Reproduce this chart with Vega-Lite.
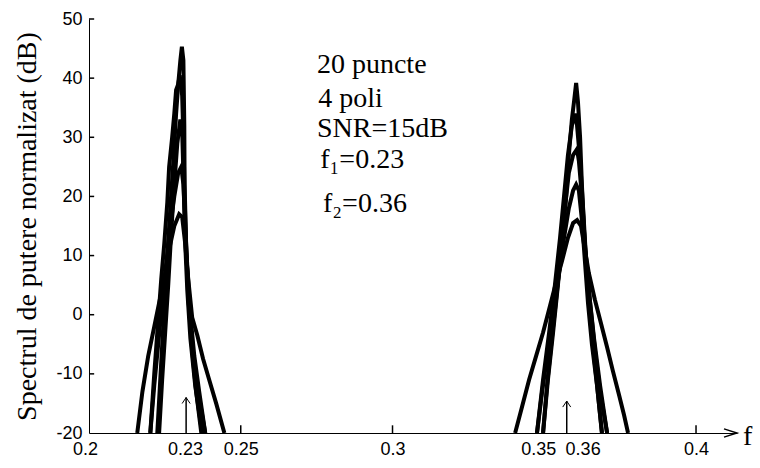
{
  "$schema": "https://vega.github.io/schema/vega-lite/v6.json",
  "width": 648,
  "height": 414,
  "autosize": {"type": "none"},
  "padding": {"left": 89, "top": 19, "right": 23, "bottom": 35},
  "background": "white",
  "config": {
    "view": {"stroke": null},
    "axis": {"grid": false, "domainColor": "black", "tickColor": "black", "labelColor": "black", "labelFont": "Liberation Sans", "labelFontSize": 18, "titleColor": "black"}
  },
  "datasets": {
    "curves": [
      {"s":"L1","f":0.2225,"db":-20},{"s":"L1","f":0.2238,"db":-8},{"s":"L1","f":0.2248,"db":1},{"s":"L1","f":0.2258,"db":10},{"s":"L1","f":0.2268,"db":18},{"s":"L1","f":0.2278,"db":26},{"s":"L1","f":0.2287,"db":34},{"s":"L1","f":0.2294,"db":39},{"s":"L1","f":0.2301,"db":43},{"s":"L1","f":0.2306,"db":45.3},{"s":"L1","f":0.2311,"db":43},{"s":"L1","f":0.2314,"db":32},{"s":"L1","f":0.2315,"db":22},{"s":"L1","f":0.2320,"db":12},{"s":"L1","f":0.2327,"db":3},{"s":"L1","f":0.2340,"db":-6},{"s":"L1","f":0.2353,"db":-13},{"s":"L1","f":0.2370,"db":-20},
      {"s":"L2","f":0.2202,"db":-20},{"s":"L2","f":0.2215,"db":-10},{"s":"L2","f":0.2228,"db":-1},{"s":"L2","f":0.2238,"db":6},{"s":"L2","f":0.2248,"db":12},{"s":"L2","f":0.2258,"db":19},{"s":"L2","f":0.2264,"db":25},{"s":"L2","f":0.2274,"db":30},{"s":"L2","f":0.2281,"db":34},{"s":"L2","f":0.2287,"db":38},{"s":"L2","f":0.2294,"db":39},{"s":"L2","f":0.2299,"db":40.5},{"s":"L2","f":0.2307,"db":37},{"s":"L2","f":0.2312,"db":28},{"s":"L2","f":0.2315,"db":20},{"s":"L2","f":0.2320,"db":11},{"s":"L2","f":0.2330,"db":1},{"s":"L2","f":0.2343,"db":-7},{"s":"L2","f":0.2363,"db":-14},{"s":"L2","f":0.2383,"db":-20},
      {"s":"L3","f":0.2231,"db":-20},{"s":"L3","f":0.2241,"db":-11},{"s":"L3","f":0.2251,"db":-3},{"s":"L3","f":0.2261,"db":5},{"s":"L3","f":0.2271,"db":14},{"s":"L3","f":0.2281,"db":22},{"s":"L3","f":0.2291,"db":29},{"s":"L3","f":0.2301,"db":33},{"s":"L3","f":0.2307,"db":31},{"s":"L3","f":0.2312,"db":22},{"s":"L3","f":0.2317,"db":12},{"s":"L3","f":0.2324,"db":4},{"s":"L3","f":0.2334,"db":-4},{"s":"L3","f":0.2350,"db":-12},{"s":"L3","f":0.2373,"db":-20},
      {"s":"L4","f":0.2202,"db":-20},{"s":"L4","f":0.2215,"db":-12},{"s":"L4","f":0.2228,"db":-5},{"s":"L4","f":0.2241,"db":2},{"s":"L4","f":0.2255,"db":9},{"s":"L4","f":0.2268,"db":15},{"s":"L4","f":0.2281,"db":20},{"s":"L4","f":0.2294,"db":24},{"s":"L4","f":0.2304,"db":25},{"s":"L4","f":0.2311,"db":22},{"s":"L4","f":0.2317,"db":15},{"s":"L4","f":0.2324,"db":8},{"s":"L4","f":0.2334,"db":0},{"s":"L4","f":0.2347,"db":-7},{"s":"L4","f":0.2363,"db":-13},{"s":"L4","f":0.2383,"db":-20},
      {"s":"L5","f":0.2159,"db":-20},{"s":"L5","f":0.2176,"db":-13},{"s":"L5","f":0.2195,"db":-7},{"s":"L5","f":0.2215,"db":-2},{"s":"L5","f":0.2231,"db":2},{"s":"L5","f":0.2248,"db":6},{"s":"L5","f":0.2264,"db":11},{"s":"L5","f":0.2281,"db":15},{"s":"L5","f":0.2297,"db":17},{"s":"L5","f":0.2307,"db":16.5},{"s":"L5","f":0.2317,"db":12},{"s":"L5","f":0.2327,"db":6},{"s":"L5","f":0.2340,"db":-0.5},{"s":"L5","f":0.2357,"db":-3.5},{"s":"L5","f":0.2376,"db":-7.5},{"s":"L5","f":0.2396,"db":-11},{"s":"L5","f":0.2419,"db":-15},{"s":"L5","f":0.2446,"db":-20},
      {"s":"R1","f":0.3496,"db":-20},{"s":"R1","f":0.3512,"db":-11},{"s":"R1","f":0.3529,"db":-3},{"s":"R1","f":0.3545,"db":5},{"s":"R1","f":0.3558,"db":12},{"s":"R1","f":0.3572,"db":20},{"s":"R1","f":0.3581,"db":27},{"s":"R1","f":0.3591,"db":33},{"s":"R1","f":0.3598,"db":36},{"s":"R1","f":0.3605,"db":39.2},{"s":"R1","f":0.3611,"db":36},{"s":"R1","f":0.3618,"db":30},{"s":"R1","f":0.3624,"db":22},{"s":"R1","f":0.3631,"db":14},{"s":"R1","f":0.3641,"db":6},{"s":"R1","f":0.3654,"db":-2},{"s":"R1","f":0.3670,"db":-10},{"s":"R1","f":0.3690,"db":-20},
      {"s":"R2","f":0.3476,"db":-20},{"s":"R2","f":0.3496,"db":-11},{"s":"R2","f":0.3516,"db":-3},{"s":"R2","f":0.3535,"db":5},{"s":"R2","f":0.3552,"db":13},{"s":"R2","f":0.3565,"db":20},{"s":"R2","f":0.3578,"db":27},{"s":"R2","f":0.3591,"db":32},{"s":"R2","f":0.3601,"db":34},{"s":"R2","f":0.3608,"db":32},{"s":"R2","f":0.3618,"db":26},{"s":"R2","f":0.3628,"db":18},{"s":"R2","f":0.3637,"db":10},{"s":"R2","f":0.3651,"db":2},{"s":"R2","f":0.3667,"db":-6},{"s":"R2","f":0.3684,"db":-13},{"s":"R2","f":0.3707,"db":-20},
      {"s":"R3","f":0.3496,"db":-20},{"s":"R3","f":0.3509,"db":-12},{"s":"R3","f":0.3525,"db":-4},{"s":"R3","f":0.3542,"db":4},{"s":"R3","f":0.3555,"db":11},{"s":"R3","f":0.3568,"db":18},{"s":"R3","f":0.3581,"db":24},{"s":"R3","f":0.3595,"db":27},{"s":"R3","f":0.3608,"db":28},{"s":"R3","f":0.3614,"db":26},{"s":"R3","f":0.3624,"db":20},{"s":"R3","f":0.3634,"db":12},{"s":"R3","f":0.3647,"db":4},{"s":"R3","f":0.3664,"db":-4},{"s":"R3","f":0.3684,"db":-12},{"s":"R3","f":0.3707,"db":-20},
      {"s":"R4","f":0.3476,"db":-20},{"s":"R4","f":0.3493,"db":-13},{"s":"R4","f":0.3512,"db":-6},{"s":"R4","f":0.3532,"db":1},{"s":"R4","f":0.3549,"db":7},{"s":"R4","f":0.3565,"db":13},{"s":"R4","f":0.3581,"db":18},{"s":"R4","f":0.3595,"db":21},{"s":"R4","f":0.3605,"db":22},{"s":"R4","f":0.3614,"db":21},{"s":"R4","f":0.3624,"db":16},{"s":"R4","f":0.3634,"db":9},{"s":"R4","f":0.3644,"db":2},{"s":"R4","f":0.3657,"db":-5},{"s":"R4","f":0.3674,"db":-12},{"s":"R4","f":0.3690,"db":-20},
      {"s":"R5","f":0.3404,"db":-20},{"s":"R5","f":0.3427,"db":-15.5},{"s":"R5","f":0.3450,"db":-11},{"s":"R5","f":0.3473,"db":-7},{"s":"R5","f":0.3496,"db":-3},{"s":"R5","f":0.3519,"db":1.5},{"s":"R5","f":0.3539,"db":5.5},{"s":"R5","f":0.3558,"db":9},{"s":"R5","f":0.3578,"db":13},{"s":"R5","f":0.3595,"db":15.5},{"s":"R5","f":0.3608,"db":16},{"s":"R5","f":0.3621,"db":15},{"s":"R5","f":0.3634,"db":11},{"s":"R5","f":0.3647,"db":7},{"s":"R5","f":0.3667,"db":2.5},{"s":"R5","f":0.3687,"db":-1.5},{"s":"R5","f":0.3707,"db":-5.5},{"s":"R5","f":0.3726,"db":-9.5},{"s":"R5","f":0.3746,"db":-13.5},{"s":"R5","f":0.3763,"db":-17},{"s":"R5","f":0.3776,"db":-20}
    ],
    "segments": [
      {"f": 0.2320, "f2": 0.2320, "db": -20, "db2": -14},
      {"f": 0.3574, "f2": 0.3574, "db": -20, "db2": -14.6},
      {"f": 0.25, "f2": 0.25, "db": -20, "db2": -18.7},
      {"f": 0.3, "f2": 0.3, "db": -20, "db2": -18.7},
      {"f": 0.35, "f2": 0.35, "db": -20, "db2": -18.7},
      {"f": 0.4, "f2": 0.4, "db": -20, "db2": -18.7},
      {"f": 0.2, "f2": 0.2017, "db": -10, "db2": -10},
      {"f": 0.2, "f2": 0.2017, "db": 0, "db2": 0},
      {"f": 0.2, "f2": 0.2017, "db": 10, "db2": 10},
      {"f": 0.2, "f2": 0.2017, "db": 20, "db2": 20},
      {"f": 0.2, "f2": 0.2017, "db": 30, "db2": 30},
      {"f": 0.2, "f2": 0.2017, "db": 40, "db2": 40},
      {"f": 0.2, "f2": 0.2017, "db": 50, "db2": 50}
    ],
    "heads": [
      {"f": 0.2320, "db": -14},
      {"f": 0.3574, "db": -14.6}
    ],
    "axisEnd": [
      {"f": 0.4135, "db": -20}
    ],
    "notes": [
      {"f": 0.2751, "db": 40.8, "t": "20 puncte"},
      {"f": 0.2755, "db": 35.2, "t": "4 poli"},
      {"f": 0.2751, "db": 30.1, "t": "SNR=15dB"},
      {"f": 0.2762, "db": 24.8, "t": "f₁=0.23"},
      {"f": 0.2771, "db": 17.4, "t": "f₂=0.36"}
    ],
    "axisName": [
      {"f": 0.4155, "db": -22, "t": "f"}
    ]
  },
  "layer": [
    {
      "data": {"name": "curves"},
      "mark": {"type": "line", "color": "black", "strokeWidth": 4, "clip": true},
      "encoding": {
        "x": {
          "field": "f", "type": "quantitative",
          "scale": {"domain": [0.2, 0.4135], "nice": false, "zero": false},
          "axis": {
            "values": [0.2, 0.23, 0.25, 0.3, 0.35, 0.36, 0.4],
            "title": null,
            "domainWidth": 1,
            "ticks": false,
            "labelPadding": 7,
            "labelOverlap": false,
            "labelFlush": false,
            "labelExpr": "'' + datum.value",
            "labelOffset": {"expr": "datum.value == 0.2 ? -4 : datum.value == 0.23 ? 5 : datum.value == 0.35 ? -6 : datum.value == 0.36 ? 8 : 0"}
          }
        },
        "y": {
          "field": "db", "type": "quantitative",
          "scale": {"domain": [-20, 50], "nice": false, "zero": false},
          "axis": {
            "values": [-20, -10, 0, 10, 20, 30, 40, 50],
            "title": "Spectrul de putere normalizat (dB)",
            "titleFont": "Liberation Serif",
            "titleFontSize": 28,
            "titleFontWeight": "normal",
            "titlePadding": 14,
            "domainWidth": 1,
            "ticks": false,
            "labelPadding": 7,
            "labelExpr": "'' + datum.value"
          }
        },
        "detail": {"field": "s"}
      }
    },
    {
      "data": {"name": "segments"},
      "mark": {"type": "rule", "color": "black", "strokeWidth": 1.5},
      "encoding": {
        "x": {"field": "f", "type": "quantitative"},
        "x2": {"field": "f2"},
        "y": {"field": "db", "type": "quantitative"},
        "y2": {"field": "db2"}
      }
    },
    {
      "data": {"name": "heads"},
      "mark": {"type": "point", "shape": "M-1,1.5L0,0L1,1.5", "size": 64, "filled": false, "color": "black", "strokeWidth": 1, "opacity": 1},
      "encoding": {
        "x": {"field": "f", "type": "quantitative"},
        "y": {"field": "db", "type": "quantitative"}
      }
    },
    {
      "data": {"name": "axisEnd"},
      "mark": {"type": "point", "shape": "M-1,-0.32L0,0L-1,0.32", "size": 676, "filled": false, "color": "black", "strokeWidth": 1.5, "opacity": 1},
      "encoding": {
        "x": {"field": "f", "type": "quantitative"},
        "y": {"field": "db", "type": "quantitative"}
      }
    },
    {
      "data": {"name": "notes"},
      "mark": {"type": "text", "align": "left", "baseline": "alphabetic", "font": "Liberation Serif", "fontSize": 28, "color": "black"},
      "encoding": {
        "x": {"field": "f", "type": "quantitative"},
        "y": {"field": "db", "type": "quantitative"},
        "text": {"field": "t"}
      }
    },
    {
      "data": {"name": "axisName"},
      "mark": {"type": "text", "align": "left", "baseline": "alphabetic", "font": "Liberation Serif", "fontSize": 28, "color": "black"},
      "encoding": {
        "x": {"field": "f", "type": "quantitative"},
        "y": {"field": "db", "type": "quantitative"},
        "text": {"field": "t"}
      }
    }
  ]
}
